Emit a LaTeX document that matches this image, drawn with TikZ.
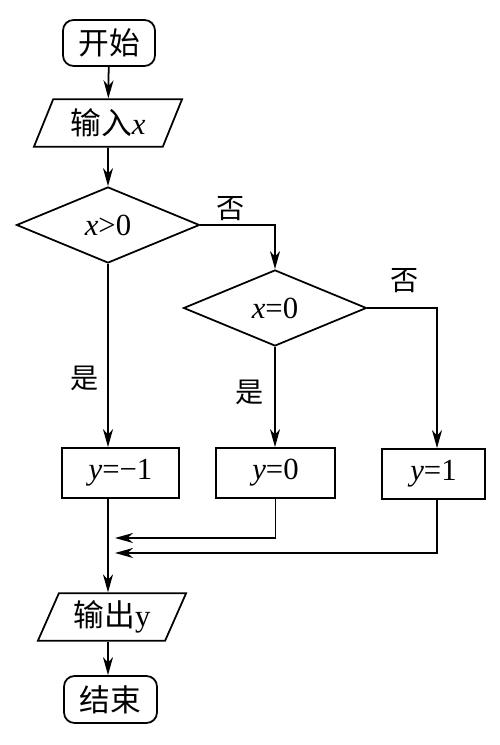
\documentclass[tikz,border=0pt]{standalone}
\usepackage{fontspec}
\setmainfont{Liberation Serif}
\newfontfamily\cjk{Noto Sans CJK SC}
\usepackage{tikz}
\usetikzlibrary{positioning}
\usetikzlibrary{calc}
\usetikzlibrary{shapes.geometric}
\usetikzlibrary{arrows.meta}

\tikzset{
  startstop/.style={rectangle, rounded corners=6pt, draw, line width=1pt,
    minimum width=1.84cm, minimum height=0.92cm, inner sep=0pt},
  io/.style={trapezium, trapezium left angle=65, trapezium right angle=115,
    trapezium stretches=true, draw, line width=1pt,
    minimum width=2.98cm, minimum height=0.95cm, inner sep=0pt},
  decision/.style={diamond, aspect=2.4, draw, line width=1pt,
    minimum width=3.66cm, minimum height=1.52cm, inner sep=0pt},
  process/.style={rectangle, draw, line width=1pt,
    minimum height=1.0cm, inner sep=0pt},
  conn/.style={line width=1pt, -{Stealth[length=3.6mm, width=2mm, inset=1.1mm]}},
  lbl/.style={font=\fontsize{16pt}{19pt}\selectfont\cjk, inner sep=0pt}
}

\begin{document}
\begin{tikzpicture}[font=\fontsize{17.5pt}{20pt}\selectfont]
    \useasboundingbox (0,0) rectangle (10,14.9);
    % main column
    \node [startstop] (start) at (2.18,14.04) {\cjk 开始};
    \node [io] (input) at (2.16,12.44) {{\cjk 输入}\textit{x}};
    \node [decision] (gtzero) at (2.16,10.40) {\textit{x}>0};
    \node [decision] (iszero) at (5.50,8.74) {\textit{x}=0};
    % assignments
    \node [process, minimum width=2.34cm] (yneg) at (2.41,5.44) {\textit{y}=−1};
    \node [process, minimum width=2.38cm] (yzero) at (5.51,5.44) {\textit{y}=0};
    \node [process, minimum width=2.06cm] (ypos) at (8.67,5.42) {\textit{y}=1};
    \node [io] (output) at (2.24,2.56) {{\cjk 输出}y};
    \node [startstop, minimum width=1.86cm, minimum height=0.94cm] (stop) at (2.21,0.91) {\cjk 结束};
    % branch labels
    \node [lbl] (no1) at (4.62,10.72) {否};
    \node [lbl] (no2) at (8.10,9.28) {否};
    \node [lbl] (yes1) at (1.70,7.34) {是};
    \node [lbl] (yes2) at (5.00,7.06) {是};
    % junctions
    \coordinate (j1) at (2.30,4.14);
    \coordinate (j2) at (2.30,3.84);

    \draw [conn] (start) -- (input);
    \draw [conn] (input) -- (gtzero);
    \draw [conn] (gtzero.south) -- (gtzero.south |- yneg.north);
    \draw [conn] (gtzero.east) -| (iszero.north);
    \draw [conn] (iszero.south) -- (iszero.south |- yzero.north);
    \draw [conn] (iszero.east) -| ($(ypos.north)+(0.07,0)$);
    \draw [conn] (gtzero.south |- yneg.south) -- (gtzero.south |- output.north);
    \draw [conn] (yzero.south) |- (j1);
    \draw [conn] ($(ypos.south)+(0.07,0)$) |- (j2);
    \draw [conn] (output.south -| gtzero.south) -- (gtzero.south |- stop.north);
\end{tikzpicture}
\end{document}
